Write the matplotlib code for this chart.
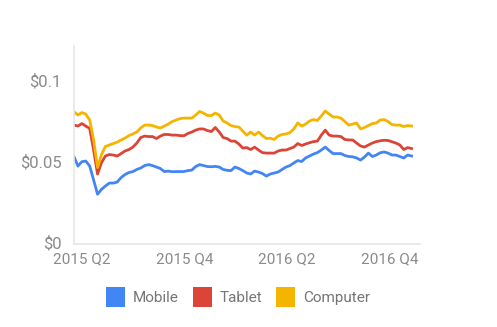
import matplotlib
matplotlib.use("Agg")
import matplotlib.pyplot as plt
from matplotlib.patches import Patch
import numpy as np
import pandas as pd

plt.rcParams['font.family'] = ['Roboto', 'DejaVu Sans']

# weekly samples, 2015-03-18 .. 2016-11-09
weeks = pd.date_range('2015-03-18', periods=87, freq='7D')

mobile = [
    0.0527, 0.0469, 0.0496, 0.0500, 0.0469, 0.0383, 0.0295, 0.0325, 0.0346, 0.0364,
    0.0364, 0.0370, 0.0398, 0.0417, 0.0429, 0.0435, 0.0448, 0.0457, 0.0472, 0.0478,
    0.0472, 0.0463, 0.0454, 0.0435, 0.0438, 0.0434, 0.0435, 0.0435, 0.0435, 0.0441,
    0.0444, 0.0466, 0.0478, 0.0472, 0.0466, 0.0465, 0.0467, 0.0463, 0.0448, 0.0443,
    0.0441, 0.0463, 0.0454, 0.0441, 0.0426, 0.0420, 0.0438, 0.0432, 0.0423, 0.0407,
    0.0420, 0.0426, 0.0432, 0.0448, 0.0463, 0.0472, 0.0488, 0.0503, 0.0497, 0.0519,
    0.0531, 0.0543, 0.0552, 0.0568, 0.0586, 0.0565, 0.0546, 0.0546, 0.0546, 0.0534,
    0.0528, 0.0526, 0.0519, 0.0506, 0.0525, 0.0549, 0.0528, 0.0537, 0.0551, 0.0556,
    0.0549, 0.0537, 0.0537, 0.0528, 0.0519, 0.0537, 0.0531,
]
tablet = [
    0.0722, 0.0716, 0.0731, 0.0716, 0.0701, 0.0568, 0.0420, 0.0490, 0.0531, 0.0540,
    0.0537, 0.0531, 0.0546, 0.0562, 0.0571, 0.0586, 0.0611, 0.0645, 0.0654, 0.0651,
    0.0651, 0.0639, 0.0654, 0.0664, 0.0664, 0.0660, 0.0660, 0.0657, 0.0656, 0.0670,
    0.0679, 0.0691, 0.0698, 0.0698, 0.0688, 0.0682, 0.0707, 0.0679, 0.0645, 0.0639,
    0.0623, 0.0623, 0.0605, 0.0580, 0.0583, 0.0571, 0.0586, 0.0568, 0.0552, 0.0549,
    0.0549, 0.0549, 0.0562, 0.0568, 0.0568, 0.0577, 0.0586, 0.0608, 0.0596, 0.0605,
    0.0613, 0.0620, 0.0623, 0.0660, 0.0691, 0.0660, 0.0654, 0.0654, 0.0651, 0.0633,
    0.0630, 0.0630, 0.0611, 0.0593, 0.0586, 0.0599, 0.0611, 0.0620, 0.0625, 0.0628,
    0.0627, 0.0619, 0.0611, 0.0599, 0.0571, 0.0583, 0.0577,
]
computer = [
    0.0804, 0.0784, 0.0799, 0.0790, 0.0753, 0.0630, 0.0460, 0.0540, 0.0590, 0.0599,
    0.0608, 0.0617, 0.0630, 0.0642, 0.0657, 0.0667, 0.0679, 0.0704, 0.0722, 0.0722,
    0.0719, 0.0710, 0.0704, 0.0716, 0.0728, 0.0744, 0.0753, 0.0762, 0.0765, 0.0765,
    0.0765, 0.0784, 0.0806, 0.0796, 0.0781, 0.0781, 0.0796, 0.0784, 0.0747, 0.0735,
    0.0719, 0.0713, 0.0710, 0.0685, 0.0660, 0.0679, 0.0660, 0.0679, 0.0657, 0.0639,
    0.0641, 0.0633, 0.0654, 0.0664, 0.0667, 0.0675, 0.0698, 0.0735, 0.0716, 0.0728,
    0.0747, 0.0756, 0.0750, 0.0778, 0.0809, 0.0790, 0.0772, 0.0772, 0.0765, 0.0744,
    0.0722, 0.0728, 0.0735, 0.0698, 0.0707, 0.0719, 0.0731, 0.0735, 0.0753, 0.0756,
    0.0744, 0.0725, 0.0722, 0.0722, 0.0713, 0.0719, 0.0716,
]

series_names = ['Mobile', 'Tablet', 'Computer']
colors = ['#4285F4', '#DB4437', '#F4B400']

tick_dates = pd.to_datetime(['2015-04-01', '2015-10-01', '2016-04-01', '2016-10-01'])
tick_labels = ['2015 Q2', '2015 Q4', '2016 Q2', '2016 Q4']
y_ticks = [0, 0.05, 0.1]
y_labels = ['$0', '$0.05', '$0.1']

fig = plt.figure(figsize=(4.97, 3.27), dpi=100)
ax = fig.add_axes([74 / 497, 1 - 244 / 327, 346 / 497, 198 / 327])

for vals, c in zip([mobile, tablet, computer], colors):
    ax.plot(weeks, vals, color=c, lw=2.0, solid_joinstyle='round')

ax.set_xlim(pd.Timestamp('2015-03-18'), pd.Timestamp('2016-11-24'))
ax.set_ylim(-0.0012, 0.121)

ax.set_xticks(tick_dates)
ax.set_xticklabels(tick_labels)
ax.set_yticks(y_ticks)
ax.set_yticklabels(y_labels)
ax.tick_params(axis='x', length=0, pad=6, labelsize=11, labelcolor='#8a8a8a')
ax.tick_params(axis='y', length=0, pad=9, labelsize=12, labelcolor='#8a8a8a')

for s in ['top', 'right']:
    ax.spines[s].set_visible(False)
for s in ['left', 'bottom']:
    ax.spines[s].set_color('#e6e6e6')
    ax.spines[s].set_linewidth(1.2)

handles = [Patch(facecolor=c, edgecolor='none', label=n) for n, c in zip(series_names, colors)]
fig.legend(handles=handles, loc='center', bbox_to_anchor=(238 / 497, 1 - 297 / 327),
           ncol=3, frameon=False, fontsize=11, handlelength=1.25, handleheight=1.6,
           handletextpad=0.5, columnspacing=0.9, labelcolor='#757575')

fig.savefig('out.png', dpi=100)
